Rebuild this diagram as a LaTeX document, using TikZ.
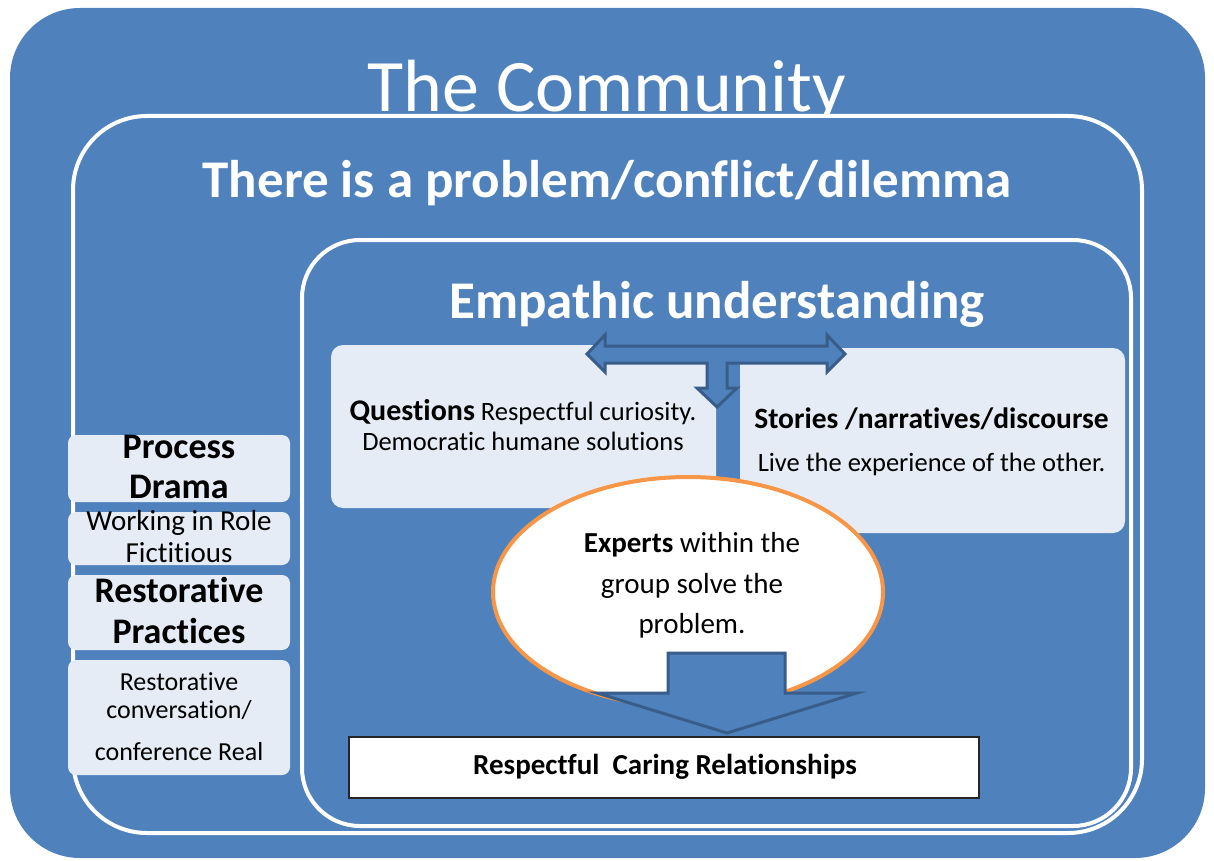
\documentclass[tikz,border=0pt]{standalone}
\usepackage{fontspec}
\setmainfont{Carlito}[Ligatures={NoCommon}]
\usetikzlibrary{shapes.geometric}
\definecolor{slideblue}{HTML}{4F81BD}
\definecolor{arrowedge}{HTML}{385D8A}
\definecolor{panelfill}{HTML}{E6ECF5}
\definecolor{ringorange}{HTML}{F79646}
\newcommand{\fs}[1]{\fontsize{#1}{#1}\selectfont}

\begin{document}
\begin{tikzpicture}[x=1pt,y=-1pt,
  frameline/.style={draw=white, line width=4pt},
  headline/.style={anchor=base, text=white, inner sep=0pt},
  panelbox/.style={rectangle, fill=panelfill, inner sep=0pt, rounded corners=#1},
  panelbox/.default=10pt,
  body/.style={anchor=base, text=black, inner sep=0pt},
  blockarrow/.style={fill=slideblue, draw=arrowedge, line width=3pt, line join=miter}
]
\useasboundingbox (0,0) rectangle (1214,861);
\fill[white] (0,0) rectangle (1214,861);

% outer community frame
\fill[slideblue, rounded corners=70pt] (10,8) rectangle (1205,858);
\node[headline, font=\fs{74}] (community) at (607,112) {The Community};

% problem frame (covers the descender of the heading above)
\draw[frameline, fill=slideblue, rounded corners=74pt] (73,116) rectangle (1142,833);
\node[headline, font=\bfseries\fs{53}] (problem) at (607,197) {There is a problem/conflict/dilemma};

% empathic understanding frame
\draw[frameline, rounded corners=58pt] (302,240) rectangle (1131,826);
\node[headline, font=\bfseries\fs{53}] (empathic) at (717,318) {Empathic understanding};

% two panels
\node[panelbox=12pt, minimum width=385pt, minimum height=163pt] (questions) at (523.5,426.5) {};
\node[panelbox=12pt, minimum width=385pt, minimum height=185pt] (stories) at (932.5,440.5) {};
\node[body] (q1) at (523,420) {{\bfseries\fs{30}Questions}{\fs{26.5} Respectful curiosity.}};
\node[body, font=\fs{26.5}] (q2) at (523,450) {Democratic humane solutions};
\node[body, font=\bfseries\fs{29.5}] (s1) at (931.5,428) {Stories /narratives/discourse};
\node[body, font=\fs{26.5}] (s2) at (931.5,471) {Live the experience of the other.};

% left column panels
\node[panelbox=8pt, minimum width=222pt, minimum height=67pt] (pd) at (179,468.5) {};
\node[panelbox=8pt, minimum width=222pt, minimum height=53pt] (wr) at (179,538.5) {};
\node[panelbox=8pt, minimum width=222pt, minimum height=75pt] (rp) at (179,612.5) {};
\node[panelbox=8pt, minimum width=222pt, minimum height=115pt] (rc) at (179,717.5) {};
\node[body, font=\bfseries\fs{36}] (pd1) at (179,458) {Process};
\node[body, font=\bfseries\fs{36}] (pd2) at (179,498) {Drama};
\node[body, font=\fs{29}] (wr1) at (179,530) {Working in Role};
\node[body, font=\fs{29}] (wr2) at (179,562) {Fictitious};
\node[body, font=\bfseries\fs{36}] (rp1) at (179,602) {Restorative};
\node[body, font=\bfseries\fs{36}] (rp2) at (179,643) {Practices};
\node[body, font=\fs{26}] (rc1) at (179,690) {Restorative};
\node[body, font=\fs{26}] (rc2) at (179,718) {conversation/};
\node[body, font=\fs{26}] (rc3) at (179,760) {conference Real};

% experts bubble
\node[ellipse, draw=ringorange, line width=4pt, fill=white, minimum width=390pt, minimum height=230pt] (experts) at (688,592) {};
\node[body, font=\fs{29}] (e1) at (692,552) {{\bfseries Experts} within the};
\node[body, font=\fs{29}] (e2) at (692,593) {group solve the};
\node[body, font=\fs{29}] (e3) at (692,633) {problem.};

% T-shaped arrow between the panels
\draw[blockarrow] (587,354) -- (605,335) -- (605,346) -- (827,346) -- (827,335) -- (845,354)
  -- (827,372) -- (827,363) -- (727,363) -- (727,388) -- (737,388) -- (717,407)
  -- (697,388) -- (707,388) -- (707,363) -- (605,363) -- (605,372) -- cycle;

% down arrow to the result
\draw[blockarrow] (668,653) -- (785,653) -- (785,693) -- (857,693) -- (727,733)
  -- (597,693) -- (668,693) -- cycle;

% result box
\node[rectangle, draw=black!85, line width=1.2pt, fill=white, minimum width=630pt, minimum height=61pt, inner sep=0pt] (result) at (664,767.5) {};
\node[body, font=\bfseries\fs{29}] (resulttext) at (665,774) {Respectful\ \ Caring Relationships};
\end{tikzpicture}
\end{document}
